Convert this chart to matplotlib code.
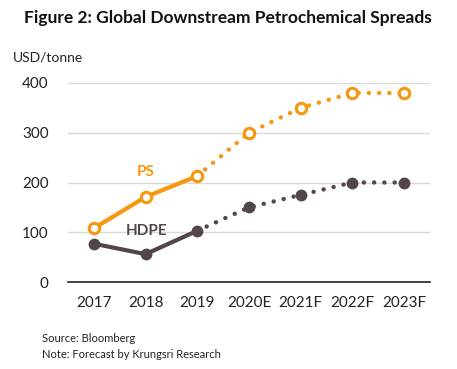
import matplotlib
matplotlib.use("Agg")
import matplotlib.pyplot as plt

categories = ["2017", "2018", "2019", "2020E", "2021F", "2022F", "2023F"]
ps_values = [108, 171, 213, 300, 350, 380, 380]
hdpe_values = [77, 56, 103, 150, 175, 200, 200]
yticks = [0, 100, 200, 300, 400]

plt.rcParams['font.family'] = ['Lato', 'DejaVu Sans']

orange = "#F7960F"
dark = "#524646"

fig = plt.figure(figsize=(4.57, 3.69), dpi=100)
ax = fig.add_axes([68/457, 1-282/369, 362/457, 199/369])

x = list(range(len(categories)))
hist = 3  # first 3 points actual

for vals, col, filled in [(hdpe_values, dark, True), (ps_values, orange, False)]:
    ax.plot(x[:hist], vals[:hist], color=col, lw=3, solid_capstyle='round', zorder=3)
    ax.plot(x[hist-1:], vals[hist-1:], color=col, lw=3.2,
            linestyle=(0, (0.01, 2.3)), dash_capstyle='round', zorder=3)
    ax.plot(x, vals, linestyle='none', marker='o', ms=8.5 if filled else 7.5,
            markerfacecolor=col if filled else 'white', markeredgecolor=col,
            markeredgewidth=0 if filled else 2.2, zorder=4)

ax.text(1, 221, "PS", color=orange, fontsize=11, fontweight='bold', ha='center', va='center')
ax.text(1.02, 102, "HDPE", color=dark, fontsize=11, fontweight='bold', ha='center', va='center')

ax.set_xlim(-0.5, len(categories) - 0.5)
ax.set_ylim(0, 400)
ax.set_yticks(yticks)
ax.set_xticks(x)
ax.set_xticklabels(categories)
ax.tick_params(axis='both', length=0, labelsize=11, colors='#222222')
ax.tick_params(axis='x', pad=10)
ax.tick_params(axis='y', pad=14)
ax.grid(axis='y', color='#D9D9D9', lw=1)
ax.set_axisbelow(True)
for s in ['top', 'right', 'left']:
    ax.spines[s].set_visible(False)
ax.spines['bottom'].set_color('#222222')
ax.spines['bottom'].set_linewidth(1.2)
ax.spines['bottom'].set_zorder(2)

fig.text(228/457, 1-18/369, "Figure 2: Global Downstream Petrochemical Spreads",
         fontsize=12.5, fontweight='bold', ha='center', va='center', color='#111111')
fig.text(13/457, 1-57/369, "USD/tonne", fontsize=10, ha='left', va='center', color='#222222')
fig.text(42/457, 1-339/369, "Source: Bloomberg", fontsize=8, ha='left', va='center', color='#222222')
fig.text(42/457, 1-355/369, "Note: Forecast by Krungsri Research", fontsize=8, ha='left', va='center', color='#222222')

fig.savefig("out.png", dpi=100)
